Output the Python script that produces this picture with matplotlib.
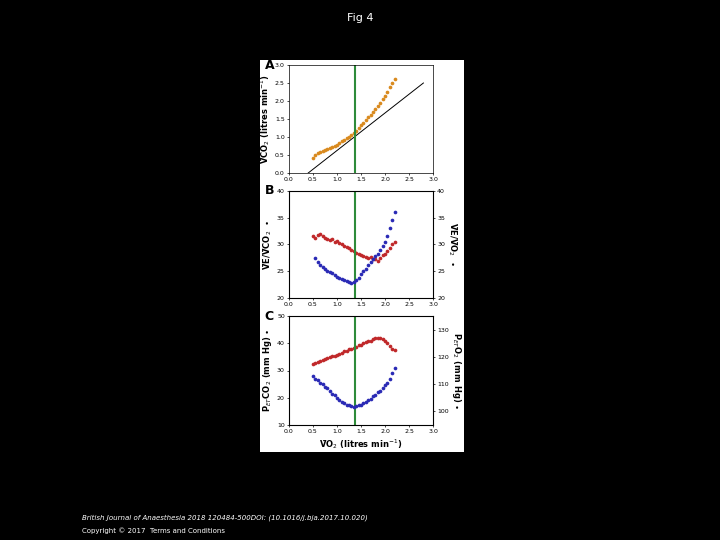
import matplotlib
matplotlib.use("Agg")
import matplotlib.pyplot as plt
from matplotlib.patches import Rectangle

# Panel A
a_x = [0.50,0.55,0.60,0.65,0.70,0.75,0.80,0.85,0.90,0.95,1.00,1.05,1.10,1.15,1.20,1.25,1.30,1.35,1.40,1.45,1.50,1.55,1.60,1.65,1.70,1.75,1.80,1.85,1.90,1.95,2.00,2.05,2.10,2.15,2.20]
a_y = [0.42,0.50,0.55,0.58,0.62,0.64,0.67,0.70,0.72,0.74,0.78,0.82,0.88,0.92,0.97,1.00,1.05,1.10,1.18,1.25,1.32,1.40,1.48,1.55,1.62,1.70,1.78,1.85,1.95,2.05,2.15,2.25,2.38,2.50,2.60]
line_x = [0.4, 2.8]
line_y = [0.0, 2.5]
at_x = 1.37
# Panel B
b_x = [0.50,0.55,0.60,0.65,0.70,0.75,0.80,0.85,0.90,0.95,1.00,1.05,1.10,1.15,1.20,1.25,1.30,1.35,1.40,1.45,1.50,1.55,1.60,1.65,1.70,1.75,1.80,1.85,1.90,1.95,2.00,2.05,2.10,2.15,2.20]
b_red = [31.5,31.3,31.8,32.0,31.6,31.2,31.0,30.8,31.0,30.5,30.6,30.2,30.0,29.8,29.6,29.3,29.0,28.8,28.5,28.2,28.0,27.8,27.6,27.5,27.6,27.3,27.2,27.0,27.5,28.0,28.2,28.8,29.3,30.0,30.5]
b_blue_x = [0.55,0.60,0.65,0.70,0.75,0.80,0.85,0.90,0.95,1.00,1.05,1.10,1.15,1.20,1.25,1.30,1.35,1.40,1.45,1.50,1.55,1.60,1.65,1.70,1.75,1.80,1.85,1.90,1.95,2.00,2.05,2.10,2.15,2.20]
b_blue = [27.5,26.8,26.2,25.8,25.5,25.0,24.8,24.6,24.3,24.0,23.8,23.5,23.3,23.1,23.0,22.8,23.0,23.3,23.8,24.5,25.0,25.5,26.2,26.8,27.3,27.8,28.3,29.0,29.8,30.5,31.5,33.0,34.5,36.0]
# Panel C
c_x = [0.50,0.55,0.60,0.65,0.70,0.75,0.80,0.85,0.90,0.95,1.00,1.05,1.10,1.15,1.20,1.25,1.30,1.35,1.40,1.45,1.50,1.55,1.60,1.65,1.70,1.75,1.80,1.85,1.90,1.95,2.00,2.05,2.10,2.15,2.20]
c_red = [32.5,32.8,33.0,33.5,33.8,34.2,34.5,35.0,35.2,35.5,35.8,36.2,36.5,37.0,37.2,37.8,38.0,38.3,38.8,39.2,39.5,40.0,40.4,40.8,41.0,41.5,41.8,42.0,41.8,41.5,41.0,40.0,39.0,38.0,37.5]
c_blue = [113.0,112.0,111.5,110.5,110.0,109.0,108.5,107.5,106.5,106.0,105.0,104.0,103.5,103.0,102.5,102.5,102.0,101.5,102.0,102.5,102.5,103.0,103.5,104.0,104.5,105.5,106.0,107.0,107.5,108.5,109.5,110.5,112.0,114.0,116.0]

orange = "#d98a1e"; red = "#c0282a"; blue = "#2a2ab5"; green = "#2e8b3a"
fs = 4.5
ms = 7

fig = plt.figure(figsize=(7.2, 5.4), dpi=100, facecolor="black")
fig.patches.append(Rectangle((260/720, 1-452/540), 204/720, 392/540, transform=fig.transFigure,
                             facecolor="white", zorder=-10))

def style(ax):
    ax.set_xlim(0, 3.0)
    ax.set_xticks([0.0,0.5,1.0,1.5,2.0,2.5,3.0])
    ax.set_xticklabels(["0.0","0.5","1.0","1.5","2.0","2.5","3.0"])
    ax.tick_params(labelsize=fs, length=1.5, width=0.5, pad=1.5)
    for s in ax.spines.values():
        s.set_linewidth(0.5)
    ax.axvline(at_x, color=green, lw=1.5)

axA = fig.add_axes([289/720, 1-173/540, 144/720, 108/540])
axA.scatter(a_x, a_y, s=ms, color=orange, lw=0)
axA.plot(line_x, line_y, color="black", lw=0.7)
axA.set_ylim(0, 3.0)
axA.set_yticks([0,0.5,1.0,1.5,2.0,2.5,3.0])
axA.set_yticklabels(["0.0","0.5","1.0","1.5","2.0","2.5","3.0"])
style(axA)
axA.set_ylabel("V̇CO$_2$ (litres min$^{-1}$)", fontsize=6, fontweight="bold", labelpad=2)
axA.text(-0.17, 1.0, "A", transform=axA.transAxes, fontsize=9, fontweight="bold", va="center")

axB = fig.add_axes([289/720, 1-298/540, 144/720, 107/540])
axB.scatter(b_x, b_red, s=ms, color=red, lw=0)
axB2 = axB.twinx()
axB2.scatter(b_blue_x, b_blue, s=ms, color=blue, lw=0)
for ax in (axB, axB2):
    ax.set_ylim(20, 40)
    ax.set_yticks([20,25,30,35,40])
    ax.tick_params(labelsize=fs, length=1.5, width=0.5, pad=1.5)
style(axB)
axB.set_ylabel("V̇E/V̇CO$_2$  $\\bullet$", fontsize=6, fontweight="bold", labelpad=2)
axB2.set_ylabel("V̇E/V̇O$_2$  $\\bullet$", fontsize=6, fontweight="bold", rotation=270, labelpad=10)
axB.text(-0.17, 1.0, "B", transform=axB.transAxes, fontsize=9, fontweight="bold", va="center")

axC = fig.add_axes([289/720, 1-425/540, 144/720, 109/540])
axC.scatter(c_x, c_red, s=ms, color=red, lw=0)
axC2 = axC.twinx()
axC2.scatter(c_x, c_blue, s=ms, color=blue, lw=0)
axC.set_ylim(10, 50)
axC.set_yticks([10,20,30,40,50])
axC2.set_ylim(95, 135)
axC2.set_yticks([100,110,120,130])
axC2.tick_params(labelsize=fs, length=1.5, width=0.5, pad=1.5)
style(axC)
axC.set_ylabel("P$_{ET}$CO$_2$ (mm Hg) $\\bullet$", fontsize=6, fontweight="bold", labelpad=2)
axC2.set_ylabel("P$_{ET}$O$_2$ (mm Hg) $\\bullet$", fontsize=6, fontweight="bold", rotation=270, labelpad=10)
axC.set_xlabel("V̇O$_2$ (litres min$^{-1}$)", fontsize=6, fontweight="bold", labelpad=2)
axC.text(-0.17, 1.0, "C", transform=axC.transAxes, fontsize=9, fontweight="bold", va="center")

fig.text(0.5, 1-18/540, "Fig 4", color="white", fontsize=8, ha="center", va="center")
fig.text(82/720, 1-518/540, "British Journal of Anaesthesia 2018 120484-500DOI: (10.1016/j.bja.2017.10.020)", color="white", fontsize=5, style="italic", va="center")
fig.text(82/720, 1-531/540, "Copyright © 2017  Terms and Conditions", color="white", fontsize=5, va="center")

fig.savefig("out.png", dpi=100, facecolor="black")
